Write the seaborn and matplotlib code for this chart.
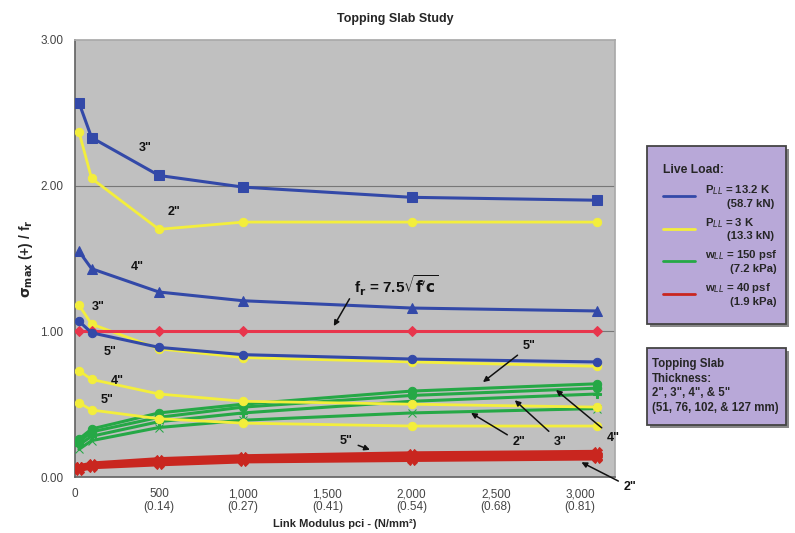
import numpy as np
import pandas as pd
import matplotlib
matplotlib.use("Agg")
import matplotlib.pyplot as plt
from matplotlib.lines import Line2D
from matplotlib.patches import Rectangle
import seaborn as sns

# ---------------- DADOS ----------------
link_modulus = [25, 100, 500, 1000, 2000, 3100]

# P_LL = 13.2 K (azul)
blue_3in = [2.57, 2.33, 2.07, 1.99, 1.92, 1.90]
blue_4in = [1.55, 1.43, 1.27, 1.21, 1.16, 1.14]
blue_5in = [1.07, 0.99, 0.89, 0.84, 0.81, 0.79]

# P_LL = 3 K (amarelo)
yellow_2in = [2.37, 2.05, 1.70, 1.75, 1.75, 1.75]
yellow_3in = [1.18, 1.05, 0.88, 0.82, 0.79, 0.76]
yellow_4in = [0.73, 0.67, 0.57, 0.52, 0.50, 0.48]
yellow_5in = [0.51, 0.46, 0.40, 0.37, 0.35, 0.35]

# w_LL = 150 psf (verde)
green_2in = [0.19, 0.25, 0.34, 0.39, 0.44, 0.47]
green_3in = [0.22, 0.28, 0.38, 0.44, 0.52, 0.57]
green_4in = [0.24, 0.31, 0.41, 0.48, 0.56, 0.61]
green_5in = [0.26, 0.33, 0.44, 0.50, 0.59, 0.64]

# w_LL = 40 psf (vermelho)
red_2in = [0.05, 0.07, 0.09, 0.11, 0.12, 0.13]
red_3in = [0.06, 0.08, 0.10, 0.12, 0.13, 0.14]
red_4in = [0.07, 0.08, 0.11, 0.13, 0.14, 0.15]
red_5in = [0.07, 0.09, 0.12, 0.14, 0.16, 0.17]

# modulo de ruptura normalizado
fr_line = [1.00, 1.00, 1.00, 1.00, 1.00, 1.00]

x_ticks = [0, 500, 1000, 1500, 2000, 2500, 3000]
x_tick_labels = ["0", "500\n(0.14)", "1,000\n(0.27)", "1,500\n(0.41)",
                 "2,000\n(0.54)", "2,500\n(0.68)", "3,000\n(0.81)"]
y_ticks = [0, 1, 2, 3]
y_tick_labels = ["0.00", "1.00", "2.00", "3.00"]

BLUE = "#3349a8"
YELLOW = "#f3ee3c"
GREEN = "#25a846"
RED = "#c9261f"
PINK = "#e8354c"
LILAS = "#b8a8d8"

sns.set_theme(style="white")
plt.rcParams["font.family"] = ["Liberation Sans", "DejaVu Sans"]

fig = plt.figure(figsize=(7.95, 5.33), dpi=100)
ax = fig.add_axes([0.094, 0.105, 0.68, 0.82])
ax.set_facecolor("#c0c0c0")


def curva(valores, cor, marcador, lw=2.0, ms=6, z=3):
    df = pd.DataFrame({"x": link_modulus, "y": valores})
    sns.lineplot(data=df, x="x", y="y", ax=ax, color=cor, lw=lw,
                 marker=marcador, markersize=ms, markeredgecolor=cor,
                 zorder=z, legend=False)


# linhas de grade
for yv in [1, 2]:
    ax.axhline(yv, color="#777777", lw=0.8, zorder=1)

# vermelho (w = 40 psf)
for serie in [red_2in, red_3in, red_4in, red_5in]:
    curva(serie, RED, "X", lw=3.5, ms=7)

# verde (w = 150 psf)
for serie, mk in [(green_2in, "x"), (green_3in, "P"), (green_4in, "o"), (green_5in, "o")]:
    curva(serie, GREEN, mk, lw=2.2, ms=6)

# amarelo (P = 3 K)
for serie in [yellow_2in, yellow_3in, yellow_4in, yellow_5in]:
    curva(serie, YELLOW, "o", lw=2.0, ms=6)

# fr
curva(fr_line, PINK, "D", lw=2.2, ms=5)

# azul (P = 13.2 K)
curva(blue_3in, BLUE, "s", lw=2.2, ms=7)
curva(blue_4in, BLUE, "^", lw=2.2, ms=7)
curva(blue_5in, BLUE, "o", lw=2.2, ms=6)

ax.set_xlim(0, 3210)
ax.set_ylim(0, 3)
ax.set_xticks(x_ticks)
ax.set_xticklabels(x_tick_labels, fontsize=8.5, color="#444444", linespacing=1.1)
ax.set_yticks(y_ticks)
ax.set_yticklabels(y_tick_labels, fontsize=8.5, color="#444444")
ax.tick_params(axis="both", length=3, color="#666666", pad=5)
for lado in ["top", "right"]:
    ax.spines[lado].set_color("#aaaaaa")
for lado in ["left", "bottom"]:
    ax.spines[lado].set_color("#666666")

ax.set_xlabel("Link Modulus pci - (N/mm²)", fontsize=8, fontweight="bold", labelpad=4)
ax.set_ylabel(r"$\mathbf{\sigma_{max}}$ (+) / f$_\mathbf{r}$", fontsize=10,
              fontweight="bold", labelpad=4)
fig.text(0.497, 0.965, "Topping Slab Study", ha="center", va="center",
         fontsize=9, fontweight="bold")

# ---------------- ROTULOS ----------------
rot = dict(fontsize=9, fontweight="bold", ha="center", va="center", color="#111111")
ax.text(420, 2.26, '3"', **rot)
ax.text(590, 1.82, '2"', **rot)
ax.text(370, 1.44, '4"', **rot)
ax.text(140, 1.17, '3"', **rot)
ax.text(210, 0.86, '5"', **rot)
ax.text(255, 0.66, '4"', **rot)
ax.text(195, 0.53, '5"', **rot)

ax.text(1660, 1.31, r"f$_\mathbf{r}$ = 7.5$\sqrt{\mathbf{f'c}}$", fontsize=11,
        fontweight="bold", ha="left", va="center", color="#111111")

seta = dict(arrowstyle="-|>", color="#111111", lw=1.1, mutation_scale=8)
ax.annotate("", xy=(1530, 1.02), xytext=(1640, 1.24), arrowprops=seta)
ax.annotate('5"', xy=(2411, 0.64), xytext=(2700, 0.90), arrowprops=seta, **rot)
ax.annotate('2"', xy=(2339, 0.45), xytext=(2640, 0.24), arrowprops=seta, **rot)
ax.annotate('3"', xy=(2601, 0.54), xytext=(2885, 0.24), arrowprops=seta, **rot)
ax.annotate('4"', xy=(2845, 0.61), xytext=(3200, 0.27), arrowprops=seta,
            annotation_clip=False, **rot)
ax.annotate('5"', xy=(1768, 0.18), xytext=(1610, 0.25), arrowprops=seta, **rot)
ax.annotate('2"', xy=(2994, 0.11), xytext=(3300, -0.07), arrowprops=seta,
            annotation_clip=False, **rot)

# ---------------- LEGENDAS ----------------
W, H = 795, 533


def caixa(x0, y0, x1, y1):
    # caixa lilas com sombra, coordenadas em pixels (origem no topo)
    fig.patches.append(Rectangle((x0 / W + 0.004, 1 - y1 / H - 0.006),
                                 (x1 - x0) / W, (y1 - y0) / H,
                                 transform=fig.transFigure, facecolor="#888888",
                                 edgecolor="none", zorder=0))
    fig.patches.append(Rectangle((x0 / W, 1 - y1 / H), (x1 - x0) / W, (y1 - y0) / H,
                                 transform=fig.transFigure, facecolor=LILAS,
                                 edgecolor="#444444", lw=1.3, zorder=1))


caixa(647, 146, 786, 324)
caixa(647, 348, 786, 425)

handles = [Line2D([], [], color=BLUE, lw=2),
           Line2D([], [], color=YELLOW, lw=2),
           Line2D([], [], color=GREEN, lw=2),
           Line2D([], [], color=RED, lw=2)]
labels = ["P$_{LL}$ = 13.2 K\n       (58.7 kN)",
          "P$_{LL}$ = 3 K\n       (13.3 kN)",
          "w$_{LL}$ = 150 psf\n        (7.2 kPa)",
          "w$_{LL}$ = 40 psf\n        (1.9 kPa)"]
leg = fig.legend(handles, labels, loc="upper left", bbox_to_anchor=(0.818, 0.715),
                 title="Live Load:", alignment="left", fontsize=8.2,
                 title_fontproperties={"weight": "bold", "size": 8.7},
                 frameon=False, handlelength=2.8,
                 labelspacing=0.62, borderpad=0.6, handletextpad=0.9)
for t in leg.get_texts():
    t.set_fontweight("bold")

fig.text(652 / W, 1 - 358 / H,
         'Topping Slab\nThickness:\n2", 3", 4", & 5"\n(51, 76, 102, & 127 mm)',
         fontsize=8.3, fontweight="bold", ha="left", va="top", linespacing=1.28)

fig.savefig("out.png", dpi=100)
